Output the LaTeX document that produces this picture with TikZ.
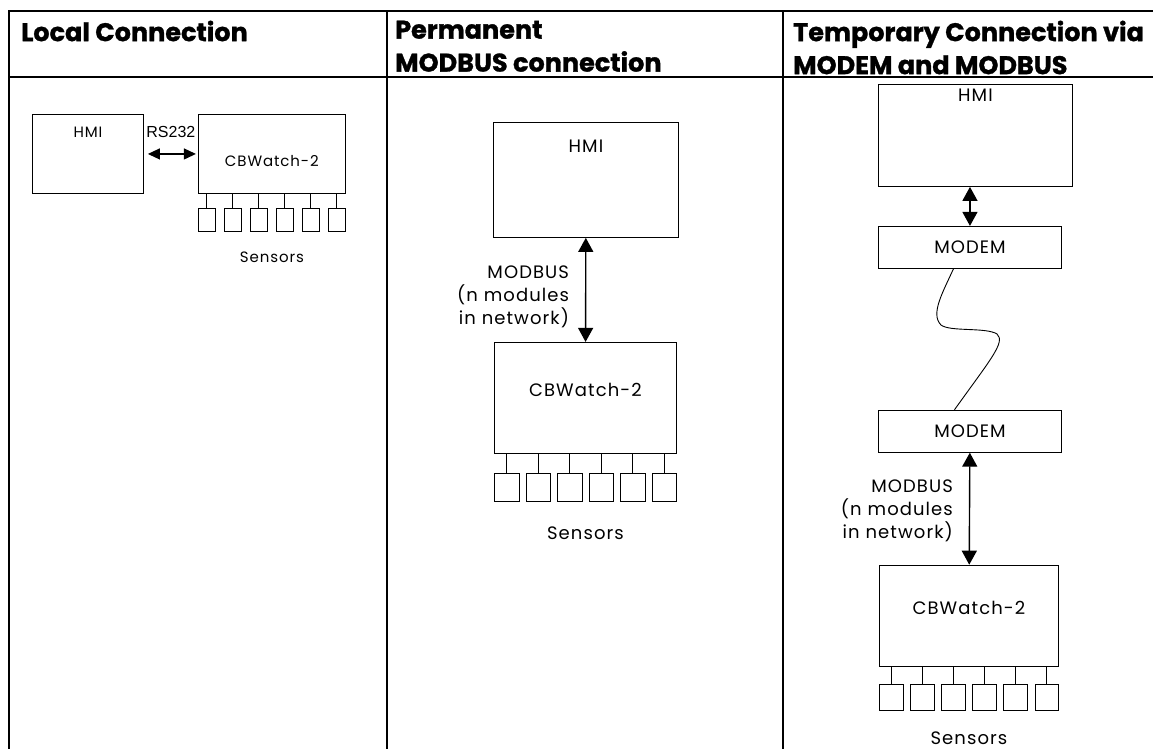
\documentclass[tikz,border=0pt]{standalone}
\usepackage{fontspec}
\newfontfamily\futura[LetterSpace=6]{Poppins}
\newfontfamily\futurahead[BoldFeatures={FakeBold=1.2}]{Poppins}
\newfontfamily\arial{Liberation Sans}
\usetikzlibrary{arrows.meta,positioning}

\tikzset{
  frame/.style={line width=2.4pt},
  unit/.style={draw, line width=0.9pt, inner sep=0pt, anchor=north west},
  sensor/.style={draw, line width=0.9pt, inner sep=0pt, anchor=north west},
  stub/.style={line width=0.9pt},
  wire/.style={line width=0.9pt},
  link/.style={{Triangle[length=14pt,width=15pt]}-{Triangle[length=14pt,width=15pt]}, line width=1.4pt},
  head/.style={font=\futurahead\bfseries\fontsize{25.5}{33}\selectfont, anchor=north west, align=left, inner sep=0pt},
  small/.style={font=\futura\fontsize{15}{18}\selectfont},
  big/.style={font=\futura\fontsize{18}{23}\selectfont},
}

\begin{document}
\begin{tikzpicture}[x=1pt,y=-1pt]
  \useasboundingbox (0,0) rectangle (1153,749);

  % table
  \draw[frame] (8.7,749) -- (8.7,11) -- (1153,11);
  \draw[frame] (8.7,77) -- (1153,77);
  \draw[frame] (387,11) -- (387,749);
  \draw[frame] (783,11) -- (783,749);
  \node[head] (tA) at (21,20.5) {Local Connection};
  \node[head] (tB) at (395,20.5) {Permanent\\MODBUS connection};
  \node[head] (tC) at (793,20.5) {Temporary Connection via\\MODEM and MODBUS};

  % local connection
  \node[unit, minimum width=111pt, minimum height=79pt,
        label={[small, anchor=base, yshift=-23pt]north:HMI}] (hmiA) at (32,114) {};
  \node[unit, minimum width=147pt, minimum height=79pt,
        label={[small, anchor=base, yshift=-52pt]north:CBWatch-2}]
        (cbA) [right=54pt of hmiA.north east, anchor=north west] {};
  \draw[{Triangle[length=12pt,width=11pt]}-{Triangle[length=12pt,width=11pt]}, line width=1.2pt,
        shorten <=4pt, shorten >=2pt]
    (hmiA) -- node[above=15.5pt, inner sep=0pt, font=\arial\fontsize{16}{18}\selectfont] {RS232} (cbA);
  \foreach \i in {1,...,6} {
    \node[sensor, minimum width=17pt, minimum height=23pt] (sA\i)
      at ([xshift={(\i-1)*26pt}, yshift=-14pt]cbA.south west) {};
    \draw[stub] (sA\i.north) -- (sA\i.north |- cbA.south);
  }
  \node[small, anchor=base] (senA) at ([yshift=-69pt]cbA.south) {Sensors};

  % permanent modbus
  \node[unit, minimum width=185pt, minimum height=115pt,
        label={[big, anchor=base, yshift=-30pt]north:HMI}] (hmiB) at (493,122) {};
  \node[unit, minimum width=182pt, minimum height=111pt,
        label={[big, anchor=base, yshift=-55pt]north:CBWatch-2}]
        (cbB) [below=104pt of hmiB.south west, anchor=north west, xshift=1pt] {};
  \draw[link] (hmiB) -- node[big, left=16pt, inner sep=0pt, align=right, yshift=-7pt]
    {MODBUS\\(n modules\\in network)} (cbB);
  \foreach \i in {1,...,6} {
    \node[sensor, minimum width=24.5pt, minimum height=28pt] (sB\i)
      at ([xshift={(\i-1)*31.5pt}, yshift=-19pt]cbB.south west) {};
    \draw[stub] (sB\i.north) -- (sB\i.north |- cbB.south);
  }
  \node[big, anchor=base] (senB) at ([yshift=-86pt]cbB.south) {Sensors};

  % temporary via modem
  \node[unit, minimum width=194pt, minimum height=102pt,
        label={[big, anchor=base, yshift=-18pt]north:HMI}] (hmiC) at (878,84) {};
  \node[unit, minimum width=183pt, minimum height=42pt, big]
        (modemA) [below=39pt of hmiC.south west, anchor=north west] {MODEM};
  \node[unit, minimum width=183pt, minimum height=42pt, big]
        (modemB) [below=141pt of modemA.south west, anchor=north west] {MODEM};
  \node[unit, minimum width=179pt, minimum height=101pt,
        label={[big, anchor=base, yshift=-50pt]north:CBWatch-2}]
        (cbC) [below=112pt of modemB.south west, anchor=north west, xshift=1pt] {};
  \draw[link] (hmiC.south -| modemA.north) -- (modemA.north);
  \draw[wire] ([xshift=-16.5pt]modemA.south) .. controls (943,292) and (930,314) .. (941,325)
    .. controls (950,332) and (986,327) .. (997,334)
    .. controls (1006,342) and (990,360) .. ([xshift=-15.5pt]modemB.north);
  \draw[link] (modemB) -- node[big, left=16pt, inner sep=0pt, align=right, yshift=-2.5pt]
    {MODBUS\\(n modules\\in network)} (cbC);
  \foreach \i in {1,...,6} {
    \node[sensor, minimum width=23.5pt, minimum height=26pt] (sC\i)
      at ([xshift={(\i-1)*31.1pt}, yshift=-17pt]cbC.south west) {};
    \draw[stub] (sC\i.north) -- (sC\i.north |- cbC.south);
  }
  \node[big, anchor=base] (senC) at ([yshift=-78pt]cbC.south) {Sensors};
\end{tikzpicture}
\end{document}
